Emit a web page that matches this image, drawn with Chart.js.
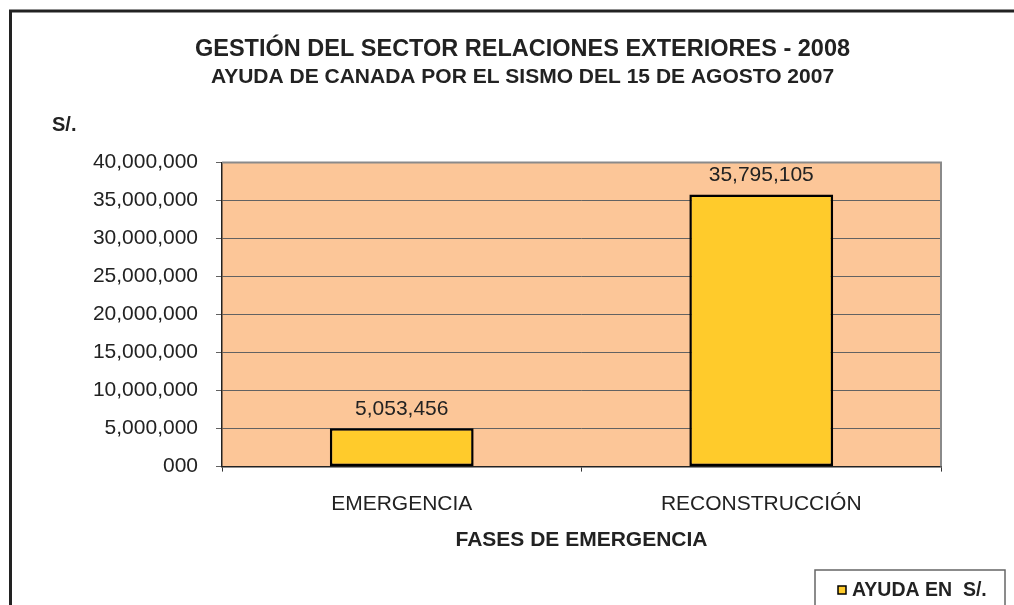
<!DOCTYPE html>
<html>
<head>
<meta charset="utf-8">
<script src="https://cdn.jsdelivr.net/npm/chart.js@4"></script>
<style>
  html, body { margin: 0; padding: 0; background: #ffffff; }
  #wrap { width: 1014px; height: 605px; }
</style>
</head>
<body>
<div id="wrap"><canvas id="c" width="1014" height="605"></canvas></div>
<script>
// ---- data ----
const categories = ['EMERGENCIA', 'RECONSTRUCCIÓN'];
const ayudaValues = [5053456, 35795105];
const seriesLabel = 'AYUDA EN  S/.';
const yTickValues = [0, 5000000, 10000000, 15000000, 20000000, 25000000, 30000000, 35000000, 40000000];
const titleText = 'GESTIÓN DEL SECTOR RELACIONES EXTERIORES - 2008';
const subtitleText = 'AYUDA DE CANADA POR EL SISMO DEL 15 DE AGOSTO 2007';
const xAxisTitle = 'FASES DE EMERGENCIA';
const yUnitLabel = 'S/.';

const FONT = "'Liberation Sans', Arial, sans-serif";
const TEXT = '#222222';
const BAR_COLOR = '#FFCB2B';
const PLOT_BG = '#FCC698';

function fmt(v) {
  if (v === 0) return '000';
  return Number(v).toLocaleString('en-US');
}

const decorPlugin = {
  id: 'decor',
  beforeDraw(chart) {
    const ctx = chart.ctx;
    const a = chart.chartArea;
    ctx.save();
    ctx.fillStyle = '#ffffff';
    ctx.fillRect(0, 0, chart.width, chart.height);
    // outer frame (left and top)
    ctx.strokeStyle = '#222222';
    ctx.lineWidth = 3;
    ctx.beginPath();
    ctx.moveTo(10.5, chart.height + 5);
    ctx.lineTo(10.5, 11);
    ctx.lineTo(chart.width + 5, 11);
    ctx.stroke();
    // plot background
    ctx.fillStyle = PLOT_BG;
    ctx.fillRect(a.left, a.top, a.right - a.left, a.bottom - a.top);
    ctx.restore();
  },
  afterDatasetsDraw(chart) {
    const ctx = chart.ctx;
    const a = chart.chartArea;
    ctx.save();
    // plot border top/right
    ctx.strokeStyle = '#8a8a8a';
    ctx.lineWidth = 2;
    ctx.beginPath();
    ctx.moveTo(a.left, a.top);
    ctx.lineTo(a.right, a.top);
    ctx.lineTo(a.right, a.bottom);
    ctx.stroke();
    // value labels
    const meta = chart.getDatasetMeta(0);
    ctx.fillStyle = TEXT;
    ctx.font = '21px ' + FONT;
    ctx.textAlign = 'center';
    ctx.textBaseline = 'middle';
    meta.data.forEach((bar, i) => {
      const v = chart.data.datasets[0].data[i];
      ctx.fillText(fmt(v), bar.x, bar.y - 19);
    });
    // unit label
    ctx.font = 'bold 20px ' + FONT;
    ctx.textAlign = 'left';
    ctx.fillText(yUnitLabel, 52, 125);
    // legend box
    const ds = chart.data.datasets[0];
    ctx.strokeStyle = '#666666';
    ctx.lineWidth = 1.5;
    ctx.strokeRect(815, 570, 190, 60);
    ctx.fillStyle = ds.backgroundColor;
    ctx.fillRect(838, 586, 8, 8);
    ctx.strokeStyle = '#000000';
    ctx.lineWidth = 1.5;
    ctx.strokeRect(838, 586, 8, 8);
    ctx.fillStyle = TEXT;
    ctx.font = 'bold 19.5px ' + FONT;
    ctx.fillText(ds.label, 852, 591);
    ctx.restore();
  }
};

new Chart(document.getElementById('c'), {
  type: 'bar',
  data: {
    labels: categories,
    datasets: [{
      label: seriesLabel,
      data: ayudaValues,
      backgroundColor: BAR_COLOR,
      borderColor: '#000000',
      borderWidth: 2.5,
      borderSkipped: false,
      barPercentage: 0.4,
      categoryPercentage: 1.0
    }]
  },
  options: {
    responsive: false,
    animation: false,
    devicePixelRatio: 1,
    layout: { padding: { left: 31, right: 0, top: 0, bottom: 52 } },
    plugins: {
      legend: { display: false },
      tooltip: { enabled: false },
      title: {
        display: true,
        text: titleText,
        color: TEXT,
        font: { family: FONT, size: 23.5, weight: 'bold', lineHeight: 1.2 },
        padding: { top: 35, bottom: 0 }
      },
      subtitle: {
        display: true,
        text: subtitleText,
        color: TEXT,
        font: { family: FONT, size: 21, weight: 'bold', lineHeight: 1.2 },
        padding: { top: 1, bottom: 73 }
      }
    },
    scales: {
      x: {
        grid: { display: true, drawOnChartArea: false, drawTicks: true, tickLength: 5, color: '#333333' },
        border: { display: true, color: '#222222', width: 1.5 },
        ticks: { color: TEXT, font: { family: FONT, size: 21 }, padding: 20, maxRotation: 0 },
        title: {
          display: true,
          text: xAxisTitle,
          color: TEXT,
          font: { family: FONT, size: 21, weight: 'bold', lineHeight: 1.2 },
          padding: { top: -9, bottom: 0 }
        }
      },
      y: {
        min: yTickValues[0],
        max: yTickValues[yTickValues.length - 1],
        afterBuildTicks: (scale) => { scale.ticks = yTickValues.map(v => ({ value: v })); },
        afterFit: (scale) => { scale.width = 191; },
        grid: { color: '#626262', lineWidth: 1, tickLength: 6, drawTicks: true },
        border: { display: true, color: '#222222', width: 1.5 },
        ticks: { color: TEXT, font: { family: FONT, size: 21 }, padding: 18, callback: (v) => fmt(v) }
      },
      yRight: {
        position: 'right',
        display: true,
        grid: { display: false, drawTicks: false },
        border: { display: false },
        ticks: { display: false },
        afterFit: (scale) => { scale.width = 73; }
      }
    }
  },
  plugins: [decorPlugin]
});
</script>
</body>
</html>
